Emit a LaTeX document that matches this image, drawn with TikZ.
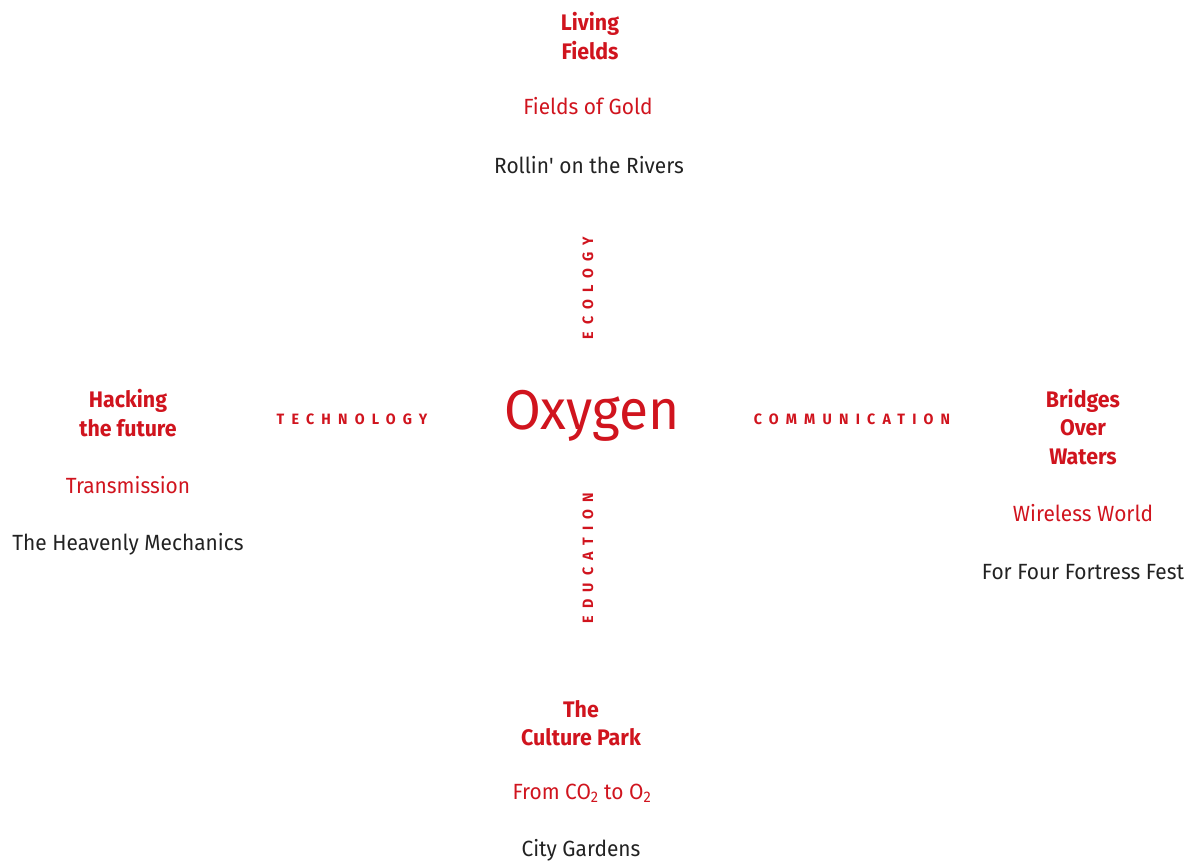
\documentclass[tikz,border=0pt]{standalone}
\usepackage{fontspec}
\setmainfont{Fira Sans}[FakeStretch=0.95]
\usepackage{xcolor}
\definecolor{oxred}{HTML}{D0141E}
\definecolor{oxgrey}{HTML}{222222}

\tikzset{
  theme/.style={text=oxred, inner sep=0pt, align=center,
    font=\bfseries\fontsize{22.5}{28.5}\selectfont},
  event/.style={text=oxred, inner sep=0pt,
    font=\fontsize{22}{28}\selectfont},
  venue/.style={text=oxgrey, inner sep=0pt,
    font=\fontsize{22}{28}\selectfont},
  pillar/.style={text=oxred, inner sep=0pt,
    font=\bfseries\fontsize{15}{15}\selectfont\addfontfeature{LetterSpace=48}},
}

\begin{document}
\begin{tikzpicture}[x=1pt, y=-1pt]
    \useasboundingbox (0,0) rectangle (1197,861);

    \node[text=oxred, inner sep=0pt, font=\fontsize{56}{60}\selectfont] (oxygen) at (592, 416) {Oxygen};

    % the four pillars
    \node[pillar, rotate=90] (ecology) at (588, 288) {ECOLOGY};
    \node[pillar, rotate=90] (education) at (588, 558) {EDUCATION};
    \node[pillar] (technology) at (352, 419) {TECHNOLOGY};
    \node[pillar] (communication) at (852, 419) {COMMUNICATION};

    % top
    \node[theme] (living) at (590, 36) {Living\\Fields};
    \node[event] (gold) at (588, 106) {Fields of Gold};
    \node[venue] (rivers) at (589, 165) {Rollin\textquotesingle{} on the Rivers};

    % left
    \node[theme] (hacking) at (128, 413) {Hacking\\the future};
    \node[event] (transmission) at (128, 485) {Transmission};
    \node[venue] (heavenly) at (128, 544) {The Heavenly Mechanics};

    % right
    \node[theme] (bridges) at (1083, 427) {Bridges\\Over\\Waters};
    \node[event] (wireless) at (1083, 513) {Wireless World};
    \node[venue] (fortress) at (1083, 572) {For Four Fortress Fest};

    % bottom
    \node[theme] (culture) at (581, 723) {The\\Culture Park};
    \node[event] (co2) at (582, 793) {From CO\textsubscript{2} to O\textsubscript{2}};
    \node[venue] (gardens) at (581, 850) {City Gardens};
\end{tikzpicture}
\end{document}
